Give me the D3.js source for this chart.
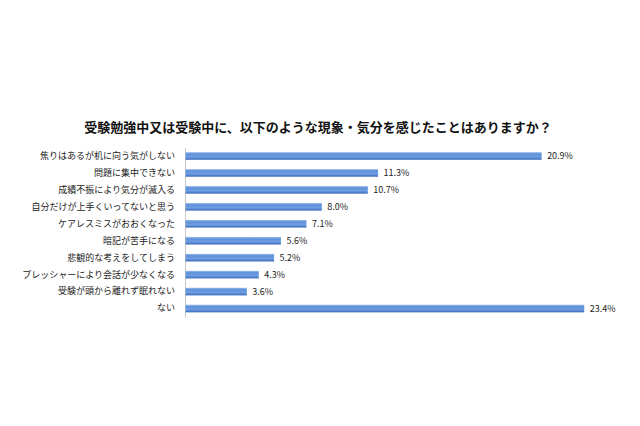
<!DOCTYPE html>
<html>
<head>
<meta charset="utf-8">
<script src="https://cdn.jsdelivr.net/npm/d3@7"></script>
<style>
  html, body { margin: 0; padding: 0; background: #fff; }
  svg { display: block; }
  text { font-family: "Noto Sans CJK JP", "Noto Sans", sans-serif; }
</style>
</head>
<body>
<svg id="chart" width="640" height="426"></svg>
<script>
const titleText = "受験勉強中又は受験中に、以下のような現象・気分を感じたことはありますか？";
const categories = [
  "焦りはあるが机に向う気がしない",
  "問題に集中できない",
  "成績不振により気分が滅入る",
  "自分だけが上手くいってないと思う",
  "ケアレスミスがおおくなった",
  "暗記が苦手になる",
  "悲観的な考えをしてしまう",
  "プレッシャーにより会話が少なくなる",
  "受験が頭から離れず眠れない",
  "ない"
];
const values = [20.9, 11.3, 10.7, 8.0, 7.1, 5.6, 5.2, 4.3, 3.6, 23.4];

const svg = d3.select("#chart");

const defs = svg.append("defs");
const grad = defs.append("linearGradient")
  .attr("id", "barGrad").attr("x1", 0).attr("y1", 0).attr("x2", 0).attr("y2", 1);
[["0%", "#9dbdee"], ["25%", "#5d8fd9"], ["60%", "#6f9fe2"], ["100%", "#3c6cbd"]]
  .forEach(([o, c]) => grad.append("stop").attr("offset", o).attr("stop-color", c));

const x = d3.scaleLinear().domain([0, 25]).range([185, 611]);
const y = d3.scaleBand().domain(categories).range([147.5, 317]).paddingInner(0.55).paddingOuter(0.275);

svg.append("text")
  .attr("x", 318).attr("y", 132)
  .attr("text-anchor", "middle")
  .attr("font-size", 13).attr("font-weight", "bold")
  .attr("fill", "#111")
  .text(titleText);

// category axis
const yAxis = d3.axisLeft(y).tickSize(0).tickPadding(10);
const gy = svg.append("g").attr("transform", `translate(${x(0)},0)`).call(yAxis);
gy.select(".domain").attr("stroke", "#c8c8c8").attr("stroke-width", 1);
gy.selectAll("text")
  .attr("font-size", 9)
  .attr("fill", "#222")
  .style("font-family", '"Noto Sans CJK JP", sans-serif');

svg.append("g").selectAll("rect")
  .data(values)
  .join("rect")
  .attr("x", x(0) + 0.5)
  .attr("y", (d, i) => y(categories[i]))
  .attr("width", d => x(d) - x(0))
  .attr("height", y.bandwidth())
  .attr("fill", "url(#barGrad)");

svg.append("g").selectAll("text")
  .data(values)
  .join("text")
  .attr("x", d => x(d) + 6)
  .attr("y", (d, i) => y(categories[i]) + y.bandwidth() / 2)
  .attr("dy", "0.35em")
  .attr("font-size", 9)
  .attr("fill", "#222")
  .text(d => d.toFixed(1) + "%");
</script>
</body>
</html>
